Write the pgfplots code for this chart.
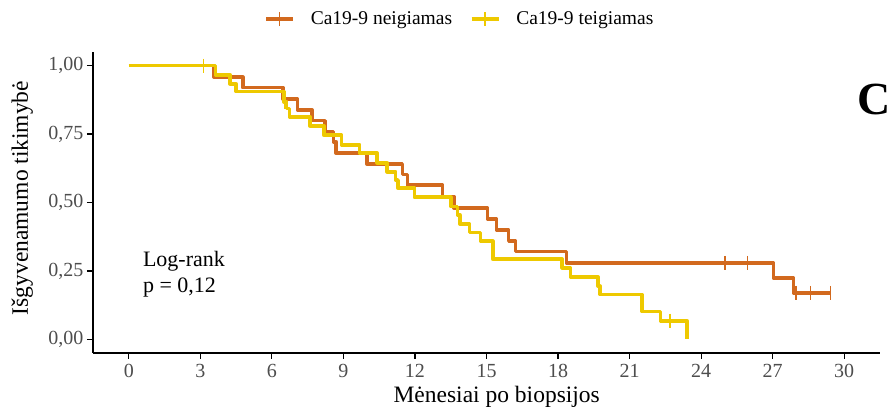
\documentclass[border=0pt]{standalone}
\usepackage{pgfplots}
\pgfplotsset{compat=1.18}
\usepackage{fontspec}
\setmainfont{Liberation Serif}
\definecolor{cneg}{RGB}{210,105,30}
\definecolor{cpos}{RGB}{238,201,0}
\definecolor{tickgray}{RGB}{77,77,77}
\begin{document}
\begin{tikzpicture}
\path[use as bounding box] (0pt,0pt) rectangle (895pt,415pt);
\begin{axis}[
  at={(93pt,62pt)}, anchor=south west,
  width=787pt, height=301pt, scale only axis,
  xmin=-1.5, xmax=31.5, ymin=-0.05, ymax=1.05,
  clip=false,
  axis x line*=bottom, axis y line*=left,
  axis line style={line width=1.4pt, black},
  xtick={0,3,6,9,12,15,18,21,24,27,30},
  xticklabels={0,3,6,9,12,15,18,21,24,27,30},
  ytick={0,0.25,0.5,0.75,1},
  yticklabels={{0,00},{0,25},{0,50},{0,75},{1,00}},
  tick align=outside, major tick length=6pt,
  tick style={line width=1.2pt, black},
  xticklabel style={font=\fontsize{20}{24}\selectfont, text=tickgray, anchor=base, yshift=-19pt},
  yticklabel style={font=\fontsize{20}{24}\selectfont, text=tickgray},
  xlabel={Mėnesiai po biopsijos},
  ylabel={Išgyvenamumo tikimybė},
  xlabel style={font=\fontsize{23.5}{28}\selectfont, at={(axis description cs:0.513,-0.165)}, anchor=base},
  ylabel style={font=\fontsize{23.5}{28}\selectfont, at={(axis description cs:-0.0826,0.515)}, anchor=base},
  legend columns=2,
  legend style={at={(axis description cs:0.4650,1.1096)}, anchor=center, draw=none, fill=none,
    font=\fontsize{19.5}{23}\selectfont,
    /tikz/every even column/.append style={column sep=18pt},
    /tikz/every odd column/.append style={column sep=16pt},
    nodes={inner sep=0pt}},
]
% Ca19-9 neigiamas
\addplot[cneg, line width=3.6pt, const plot mark left, line join=round,
  legend image code/.code={\draw[cneg,line width=3.2pt] (0pt,0pt)--(27pt,0pt); \draw[cneg,line width=1.6pt] (13.5pt,-7pt)--(13.5pt,7pt);}]
coordinates {
(0,1.000) (3.57,0.958) (4.78,0.920) (6.46,0.878) (7.08,0.838) (7.69,0.799)
(8.24,0.759) (8.58,0.722) (8.70,0.680) (9.98,0.641) (11.47,0.602) (11.68,0.563)
(13.16,0.522) (13.63,0.480) (15.04,0.440) (15.42,0.399) (15.93,0.360) (16.21,0.321)
(18.35,0.279) (27.03,0.224) (27.87,0.170) (29.42,0.170)
};
\addlegendentry{Ca19-9 neigiamas}
% Ca19-9 teigiamas
\addplot[cpos, line width=3.6pt, const plot mark left, line join=round,
  legend image code/.code={\draw[cpos,line width=3.2pt] (0pt,0pt)--(27pt,0pt); \draw[cpos,line width=1.6pt] (13.5pt,-7pt)--(13.5pt,7pt);}]
coordinates {
(0,1.000) (3.63,0.967) (4.24,0.934) (4.50,0.906) (6.50,0.868) (6.62,0.843)
(6.74,0.813) (7.60,0.780) (8.18,0.746) (8.92,0.711) (9.68,0.680) (10.42,0.645)
(10.84,0.612) (11.19,0.582) (11.29,0.552) (11.98,0.519) (13.50,0.486) (13.78,0.455)
(13.88,0.422) (14.28,0.390) (14.75,0.359) (15.26,0.293) (18.17,0.261) (18.52,0.228)
(19.68,0.194) (19.76,0.164) (21.52,0.102) (22.30,0.068) (23.40,0.000)
};
\addlegendentry{Ca19-9 teigiamas}
% censor marks
\addplot[forget plot, only marks, mark=|, mark size=7pt, mark options={cneg, line width=1.6pt}]
coordinates {(25.00,0.279) (25.95,0.279) (27.98,0.170) (28.59,0.170) (29.42,0.170)};
\addplot[forget plot, only marks, mark=|, mark size=7pt, mark options={cpos, line width=1.6pt}]
coordinates {(3.13,1.000) (6.56,0.868) (22.69,0.068)};
\node[anchor=base west, font=\fontsize{22}{26}\selectfont] at (axis cs:0.45,0.267) {Log-rank};
\node[anchor=base west, font=\fontsize{22}{26}\selectfont] at (axis cs:0.45,0.170) {p = 0,12};
\node[anchor=base east, font=\bfseries\fontsize{46}{55}\selectfont] at (axis cs:32.08,0.822) {C};
\end{axis}
\end{tikzpicture}
\end{document}
